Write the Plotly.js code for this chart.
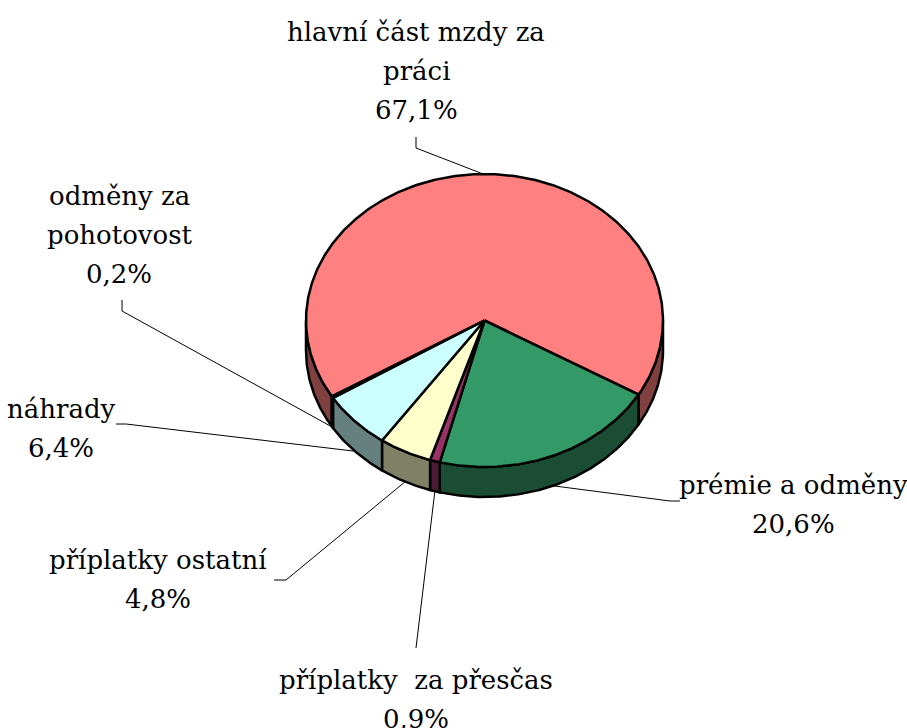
<!DOCTYPE html>
<html>
<head>
<meta charset="utf-8">
<script src="https://cdn.plot.ly/plotly-3.0.1.min.js"></script>
<style>html,body{margin:0;padding:0;background:#fff;}#chart{width:907px;height:728px;}</style>
</head>
<body>
<div id="chart"></div>
<script>
// ---- data ----
const categories = ['hlavní část mzdy za<br>práci', 'prémie a odměny', 'příplatky\u00a0 za přesčas', 'příplatky ostatní', 'náhrady', 'odměny za<br>pohotovost'];
const values = [67.1, 20.6, 0.9, 4.8, 6.4, 0.2];
const topColors = ['#FF8080', '#339966', '#993366', '#FFFFCC', '#CCFFFF', '#660066'];
const sideColors = ['#804040', '#1A4D33', '#4D1A33', '#808066', '#668080', '#330033'];

// ---- layout geometry (not data) ----
const W = 907, H = 728;
const cx = 484.5, cy = 320.5, rx = 178.5, ry = 146.5, depth = 30, startAngle = 148.8;
// x centre and y of first text line for each label
const labelPos = [[416, 32], [793, 485], [416, 680], [158, 560], [61, 409], [119, 196]];
const lineGap = 39;
const leaderTail = [[[416,148],[416,137]], [[670,501],[680,501]], [[417,634],[416,648]], [[286,580],[274,580]], [[126,424],[116,424]], [[122,311],[122,300]]];

const rad = d => d * Math.PI / 180;
function pt(a, dz) { return [cx + rx * Math.cos(rad(a)), cy + ry * Math.sin(rad(a)) + (dz || 0)]; }
function arc(a, b, dz) {
  const n = Math.max(2, Math.ceil(Math.abs(b - a) * 2));
  const out = [];
  for (let i = 0; i <= n; i++) out.push(pt(a + (b - a) * i / n, dz));
  return out;
}

const total = values.reduce((s, v) => s + v, 0);
const slices = [];
let acc = startAngle;
values.forEach((v, i) => {
  const span = v / total * 360;
  slices.push({a: acc, b: acc + span, i});
  acc += span;
});

const traces = [];
const edge = {color: '#000', width: 2.5};

slices.forEach(s => {
  [0, -360, 360].forEach(off => {
    const a = Math.max(s.a + off, 0), b = Math.min(s.b + off, 180);
    if (b > a) {
      const poly = arc(a, b, 0).concat(arc(b, a, depth));
      poly.push(poly[0]);
      traces.push({type: 'scatter', mode: 'lines', x: poly.map(p => p[0]), y: poly.map(p => p[1]),
        fill: 'toself', fillcolor: sideColors[s.i], line: edge, hoverinfo: 'skip', showlegend: false});
    }
  });
});

slices.forEach(s => {
  const poly = [[cx, cy]].concat(arc(s.a, s.b, 0));
  poly.push([cx, cy]);
  traces.push({type: 'scatter', mode: 'lines', x: poly.map(p => p[0]), y: poly.map(p => p[1]),
    fill: 'toself', fillcolor: topColors[s.i], line: edge, hoverinfo: 'skip', showlegend: false});
});

const annotations = [];
slices.forEach(s => {
  const mid = (s.a + s.b) / 2;
  const front = Math.sin(rad(mid)) > 0;
  const p0 = pt(mid, front ? depth : 0);
  const line = [p0].concat(leaderTail[s.i]);
  traces.push({type: 'scatter', mode: 'lines', x: line.map(p => p[0]), y: line.map(p => p[1]),
    line: {color: '#000', width: 1}, hoverinfo: 'skip', showlegend: false});
  const lines = categories[s.i].split('<br>').concat([values[s.i].toFixed(1).replace('.', ',') + '%']);
  lines.forEach((t, k) => {
    annotations.push({
      x: labelPos[s.i][0], y: labelPos[s.i][1] + k * lineGap, xref: 'x', yref: 'y',
      text: t, showarrow: false, xanchor: 'center', yanchor: 'middle', align: 'center',
      font: {family: 'DejaVu Serif', size: 26, color: '#000'}
    });
  });
});

Plotly.newPlot('chart', traces, {
  width: W, height: H,
  margin: {l: 0, r: 0, t: 0, b: 0},
  paper_bgcolor: '#fff', plot_bgcolor: '#fff',
  xaxis: {range: [0, W], visible: false, fixedrange: true},
  yaxis: {range: [H, 0], visible: false, fixedrange: true},
  annotations: annotations,
  showlegend: false
}, {staticPlot: true});
</script>
</body>
</html>
